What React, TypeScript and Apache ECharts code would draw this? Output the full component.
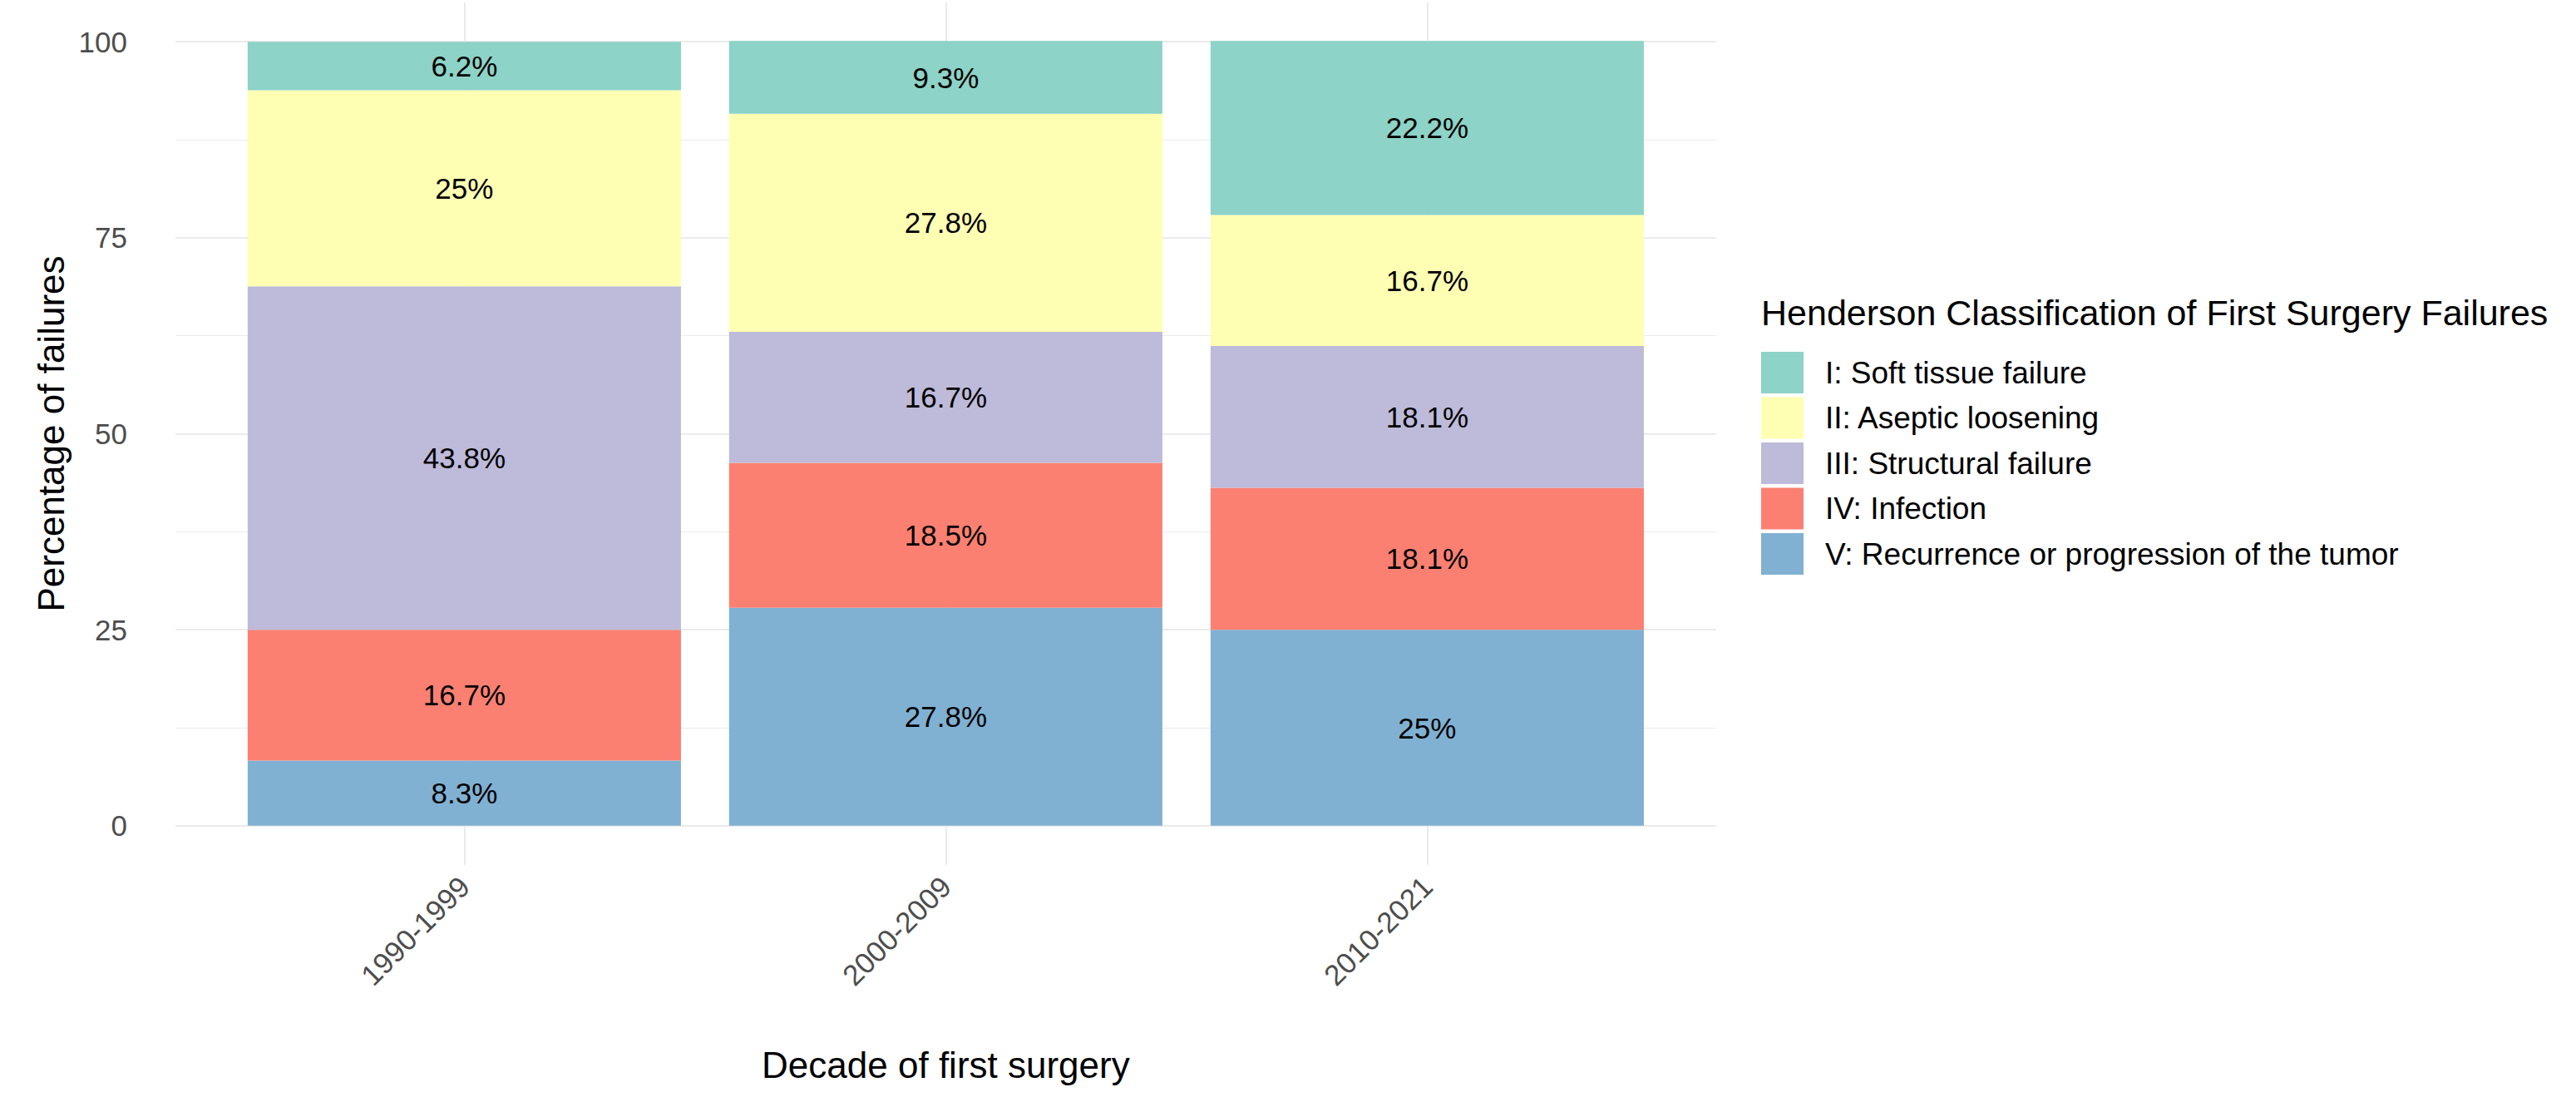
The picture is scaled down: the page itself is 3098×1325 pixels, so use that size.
import React, { useEffect, useRef } from "react";
import * as echarts from "echarts";

const categories = ["1990-1999", "2000-2009", "2010-2021"];
const categoryPositions = [1, 2, 3];
const classNames = [
  "I: Soft tissue failure",
  "II: Aseptic loosening",
  "III: Structural failure",
  "IV: Infection",
  "V: Recurrence or progression of the tumor",
];
const softTissue = [6.2, 9.3, 22.2];
const asepticLoosening = [25, 27.8, 16.7];
const structuralFailure = [43.8, 16.7, 18.1];
const infection = [16.7, 18.5, 18.1];
const recurrence = [8.3, 27.8, 25];
const classColors = ["#8DD3C7", "#FFFFB3", "#BEBADA", "#FB8072", "#80B1D3"];
const yTicks = [0, 25, 50, 75, 100];
const yMinorTicks = [12.5, 37.5, 62.5, 87.5];
const legendTitle = "Henderson Classification of First Surgery Failures";
const xTitle = "Decade of first surgery";
const yTitle = "Percentage of failures";

const FONT = "'Liberation Sans', Arial, Helvetica, sans-serif";

export default function App() {
  const ref = useRef<HTMLDivElement>(null);

  useEffect(() => {
    if (!ref.current) return;
    const chart = echarts.init(ref.current, null, { renderer: "svg" });

    const seriesValues = [softTissue, asepticLoosening, structuralFailure, infection, recurrence];
    // stack bottom-up: V, IV, III, II, I
    const order = [4, 3, 2, 1, 0];
    const barSeries = order.map((k) => ({
      name: classNames[k],
      type: "bar",
      stack: "total",
      barWidth: "90%",
      xAxisIndex: 1,
      yAxisIndex: 1,
      z: 3,
      itemStyle: { color: classColors[k] },
      label: {
        show: true,
        position: "inside",
        color: "#000000",
        fontSize: 35,
        fontFamily: FONT,
        formatter: (p: any) => `${p.value}%`,
      },
      emphasis: { disabled: true },
      data: seriesValues[k],
    }));

    const gridLineSeries = {
      name: "grid",
      type: "line",
      data: [],
      xAxisIndex: 0,
      yAxisIndex: 0,
      z: 0,
      silent: true,
      markLine: {
        silent: true,
        z: 0,
        zlevel: 0,
        symbol: ["none", "none"],
        label: { show: false },
        emphasis: { disabled: true },
        animation: false,
        data: [
          ...yMinorTicks.map((v) => ({ yAxis: v, lineStyle: { color: "#EBEBEB", width: 1, type: "solid" } })),
          ...yTicks.map((v) => ({ yAxis: v, lineStyle: { color: "#EBEBEB", width: 2, type: "solid" } })),
          ...categoryPositions.map((v) => ({ xAxis: v, lineStyle: { color: "#EBEBEB", width: 2, type: "solid" } })),
        ],
      },
    };

    const band = 579;
    const panelLeft = 211;

    chart.setOption({
      animation: false,
      backgroundColor: "#FFFFFF",
      textStyle: { fontFamily: FONT },
      title: {
        text: legendTitle,
        left: 2118,
        top: 354,
        padding: 0,
        textStyle: { fontSize: 43, fontWeight: "normal", color: "#000000", fontFamily: FONT },
      },
      legend: {
        orient: "vertical",
        left: 2118,
        top: 423,
        padding: 0,
        itemWidth: 51,
        itemHeight: 50,
        itemGap: 4.5,
        icon: "rect",
        selectedMode: false,
        data: classNames.map((n) => ({ name: n, itemStyle: { borderWidth: 0 } })),
        textStyle: { fontSize: 37, color: "#000000", fontFamily: FONT, padding: [0, 0, 0, 21] },
      },
      grid: [
        // full panel (ggplot expanded range) for grid lines and y labels
        { left: panelLeft, top: 3, width: 3.2 * band, height: 1037, containLabel: false },
        // bar area: 3 category bands
        { left: panelLeft + 0.1 * band, top: 3, width: 3 * band, height: 1037, containLabel: false },
      ],
      xAxis: [
        {
          type: "value",
          gridIndex: 0,
          min: 0.4,
          max: 3.6,
          axisLine: { show: false },
          axisTick: { show: false },
          splitLine: { show: false },
          axisLabel: { show: false },
          name: xTitle,
          nameLocation: "middle",
          nameGap: 218,
          nameTextStyle: { fontSize: 44, color: "#000000", fontFamily: FONT },
        },
        {
          type: "category",
          gridIndex: 1,
          data: categories,
          axisLine: { show: false },
          axisTick: { show: false },
          splitLine: { show: false },
          axisLabel: {
            rotate: 45,
            margin: 20,
            fontSize: 35,
            color: "#4D4D4D",
            fontFamily: FONT,
          },
        },
      ],
      yAxis: [
        {
          type: "value",
          gridIndex: 0,
          min: -5,
          max: 105,
          axisLine: { show: false },
          axisTick: { show: false },
          splitLine: { show: false },
          axisLabel: {
            customValues: yTicks,
            margin: 58,
            fontSize: 35,
            color: "#4D4D4D",
            fontFamily: FONT,
          },
          name: yTitle,
          nameLocation: "middle",
          nameGap: 124,
          nameTextStyle: { fontSize: 44, color: "#000000", fontFamily: FONT },
        },
        {
          type: "value",
          gridIndex: 1,
          min: -5,
          max: 105,
          show: false,
          splitLine: { show: false },
        },
      ],
      series: [gridLineSeries, ...barSeries],
    });

    return () => chart.dispose();
  }, []);

  return (
    <div
      ref={ref}
      style={{ position: "fixed", left: 0, top: 0, width: 3098, height: 1325 }}
    />
  );
}
